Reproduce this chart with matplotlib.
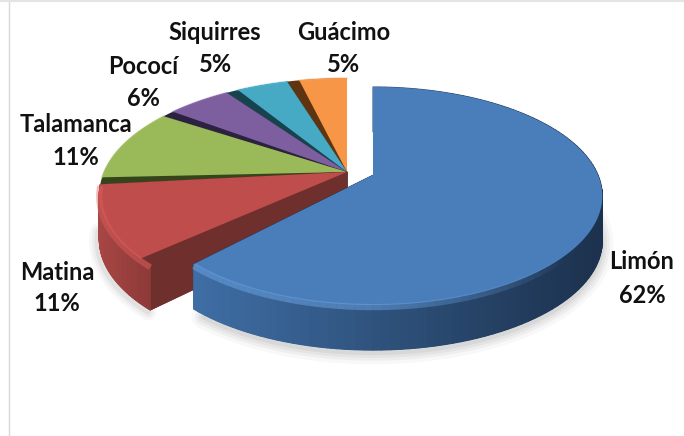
import numpy as np
import matplotlib
matplotlib.use("Agg")
import matplotlib.pyplot as plt
from matplotlib.colors import to_rgb

# Datos
municipios = ["Limón", "Matina", "Talamanca", "Pococí", "Siquirres", "Guácimo"]
porcentajes = [62, 11, 11, 6, 5, 5]

# Estilo de cada porcion: cara superior, borde claro, pared (izq -> der), corte
TOP = ["#4a7ebb", "#bf4d4b", "#9aba59", "#7d5fa0", "#46aac5", "#f79646"]
RIM = ["#6ea6e6", "#e0625e", "#aecb6a", "#8f70b4", "#58bcd6", "#fbab62"]
WALL = [("#3f6fa6", "#1c314d"), ("#a84644", "#8c3a38")]
CUT = ["#1f3550", "#6e2f2d", "#34451b", "#2c2140", "#17434f", "#5f3411"]
LABEL_POS = [(642, 261, 295), (57, 272, 303), (76, 124, 157),
             (143, 66, 98), (215, 32, 64), (344, 32, 64)]

DEPTH = 45
PERSP = 0.193
GAP = 3.5  # grados que dejan ver la pared de la porcion
ROT_RESTO = 1.0  # el resto del pastel esta un poco girado


def project(theta, r, cx, cy, R, k):
    """theta en grados, horario desde arriba -> pixeles con perspectiva."""
    t = np.radians(theta)
    x = r * np.sin(t)
    y = r * np.cos(t)
    s = 1 / (1 + PERSP * y)
    return cx + R * x * s, cy - k * y * s


def mix(c1, c2, f):
    a, b = np.array(to_rgb(c1)), np.array(to_rgb(c2))
    return tuple(a + (b - a) * f)


fig = plt.figure(figsize=(6.84, 4.36), dpi=100)
ax = fig.add_axes([0, 0, 1, 1])
ax.set_xlim(0, 684)
ax.set_ylim(436, 0)
ax.axis("off")

# marco gris del grafico original
ax.plot([8.5, 8.5], [0, 436], color="#d9d9d9", lw=1)
ax.plot([0, 684], [0.8, 0.8], color="#e4e4e4", lw=1.5)

edges = np.cumsum([0] + porcentajes) * 3.6
geom_limon = dict(cx=373, cy=175, R=225, k=105)
geom_resto = dict(cx=347, cy=172, R=243, k=112)

# sombra bajo el pastel
th = np.linspace(edges[1] - 3, 88, 80)
sx, sy = project(th, 1, **geom_limon)
for w, a in zip([16, 11, 7, 3], [0.05, 0.07, 0.08, 0.10]):
    ax.plot(sx, sy + DEPTH + 3, color="#777777", lw=w, alpha=a, solid_capstyle="round", zorder=1)
th = np.linspace(edges[1] + ROT_RESTO, edges[2] + ROT_RESTO, 30)
sx, sy = project(th, 1, **geom_resto)
for w, a in zip([12, 8, 4], [0.05, 0.07, 0.10]):
    ax.plot(sx - 2, sy + DEPTH + 2, color="#777777", lw=w, alpha=a, solid_capstyle="round", zorder=1)

# de atras hacia adelante: Guacimo ... Matina, y Limon al final
orden = [5, 4, 3, 2, 1, 0]
z = 2
for i in orden:
    geom = geom_limon if i == 0 else geom_resto
    rot = 0 if i == 0 else ROT_RESTO
    a0, a1 = edges[i] + rot, min(edges[i + 1] + rot, 360)
    th = np.linspace(a0, a1, 120)
    ox, oy = project(th, 1, **geom)
    cx, cy = geom["cx"], geom["cy"]

    # cortes radiales: el grosor solo se ve como banda oscura en las de atras
    if i < 2:
        ax.fill(np.r_[cx, ox], np.r_[cy, oy] + DEPTH, color=CUT[i], lw=0, zorder=z)
        for e in (0, -1):
            ax.fill([cx, ox[e], ox[e], cx], [cy, oy[e], oy[e] + DEPTH, cy + DEPTH],
                    color=CUT[i], lw=0.5, zorder=z)
    else:
        ax.fill(np.r_[cx, ox], np.r_[cy, oy], color=CUT[i], lw=0, zorder=z)
        ax.fill([cx, ox[0], ox[0], cx], [cy, oy[0], oy[0] + DEPTH, cy + DEPTH],
                color=CUT[i], lw=0.5, zorder=z)
    z += 1

    # pared exterior con degradado
    if i < 2:
        for j in range(len(th) - 1):
            f = (ox[j] - ox.min()) / max(ox.max() - ox.min(), 1)
            col = mix(WALL[i][0], WALL[i][1], f)
            ax.fill([ox[j], ox[j + 1], ox[j + 1], ox[j]],
                    [oy[j], oy[j + 1], oy[j + 1] + DEPTH, oy[j] + DEPTH],
                    facecolor=col, edgecolor=col, lw=0.8, zorder=z)
    z += 1

    # cara superior
    th_top = np.linspace(a0 + (GAP if i != 0 else 0), a1, 120)
    tx, ty = project(th_top, 1, **geom)
    ax.fill(np.r_[cx, tx], np.r_[cy, ty], color=TOP[i], lw=0, zorder=z)
    z += 1

    # bisel claro del borde frontal, se desvanece hacia la derecha en Limon
    if i in (0, 1):
        rx, ry = project(th, 1, **geom)
        if i == 0:
            fade = np.clip((th - 130) / 50, 0, 1)
        else:
            fade = np.ones_like(th)
        for j in range(len(th) - 1):
            if fade[j] <= 0:
                continue
            ax.plot(rx[j:j + 2], ry[j:j + 2] + 2, color=RIM[i], lw=4.5,
                    alpha=0.5 * fade[j], zorder=z, solid_capstyle="butt")
    else:
        ax.plot(tx, ty, color=RIM[i], lw=1.2, alpha=0.5, zorder=z)
    z += 1

# etiquetas
for nombre, pct, (lx, y1, y2) in zip(municipios, porcentajes, LABEL_POS):
    ax.text(lx, y1, nombre, ha="center", va="center", fontsize=17, family="Lato",
            weight="bold", color="#111111", zorder=50)
    ax.text(lx, y2, f"{pct}%", ha="center", va="center", fontsize=17, family="Lato",
            weight="bold", color="#111111", zorder=50)

fig.savefig("out.png", dpi=100, facecolor="white")
